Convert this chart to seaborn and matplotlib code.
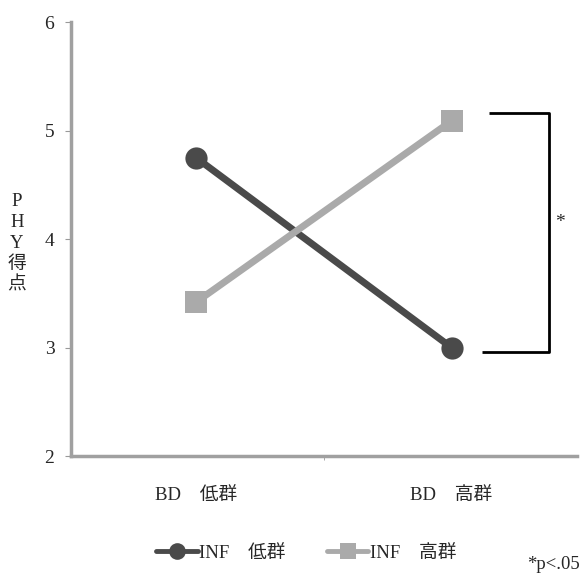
import matplotlib
matplotlib.use("Agg")
import matplotlib.pyplot as plt
import seaborn as sns
import pandas as pd
from matplotlib.lines import Line2D

categories = ["BD\u3000低群", "BD\u3000高群"]
series_names = ["INF\u3000低群", "INF\u3000高群"]
inf_low = [4.75, 3.0]
inf_high = [3.42, 5.09]
yticks = [2, 3, 4, 5, 6]

sns.set_style("white")
plt.rcParams['font.family'] = ['Liberation Serif', 'Noto Sans CJK JP']

rows = []
for i, c in enumerate(categories):
    rows.append({"x": i, "BD": c, "INF": series_names[0], "score": inf_low[i]})
    rows.append({"x": i, "BD": c, "INF": series_names[1], "score": inf_high[i]})
df = pd.DataFrame(rows)

fig = plt.figure(figsize=(5.84, 5.84), dpi=100)
ax = fig.add_axes([0.1216, 0.219, 0.866, 0.743])

colors = {series_names[0]: "#4a4a4a", series_names[1]: "#aaaaaa"}
markers = {series_names[0]: "o", series_names[1]: "s"}
sns.lineplot(data=df, x="x", y="score", hue="INF", style="INF",
             palette=colors, markers=markers, dashes=False,
             linewidth=5, markersize=16, markeredgewidth=0,
             legend=False, ax=ax)

ax.set_xlim(-0.49, 1.49)
ax.set_ylim(2, 6)
ax.set_yticks(yticks)
ax.set_yticklabels([str(t) for t in yticks], fontsize=14)
ax.set_xticks([0, 1])
ax.set_xticklabels(categories, fontsize=13.5)
ax.set_xticks([0.5], minor=True)
ax.tick_params(axis='x', which='major', length=0, pad=22)
ax.tick_params(axis='x', which='minor', length=3, color="#999999", direction='out', bottom=True)
ax.tick_params(axis='y', length=4, color="#999999", direction='out', left=True, pad=8)
ax.set_xlabel("")
ax.set_ylabel("P\nH\nY\n得\n点", rotation=0, fontsize=13.5, va='center', ha='center', linespacing=1.3)
ax.yaxis.set_label_coords(-0.107, 0.49)

for s in ["top", "right"]:
    ax.spines[s].set_visible(False)
for s in ["left", "bottom"]:
    ax.spines[s].set_color("#a0a0a0")
    ax.spines[s].set_linewidth(2.5)

# significance bracket
bx_top_left, bx_bot_left, bx_right = 1.145, 1.12, 1.38
ytop, ybot = 5.16, 2.96
ax.plot([bx_top_left, bx_right, bx_right, bx_bot_left], [ytop, ytop, ybot, ybot],
        color="black", linewidth=2, solid_capstyle='butt')
ax.text(bx_right + 0.025, (ytop + ybot) / 2 + 0.09, "*", fontsize=14, ha='left', va='center')

handles = [Line2D([], [], color=colors[n], marker=markers[n], linewidth=3.5, markersize=12,
                  markeredgewidth=0) for n in series_names]
fig.legend(handles, series_names, loc='center', bbox_to_anchor=(0.525, 0.053), ncol=2,
           frameon=False, fontsize=13.5, handlelength=2.2, handletextpad=0.1, columnspacing=2.2)
fig.text(0.903, 0.018, "*p<.05", fontsize=13.5, ha='left', va='bottom')

fig.savefig("out.png", dpi=100)
